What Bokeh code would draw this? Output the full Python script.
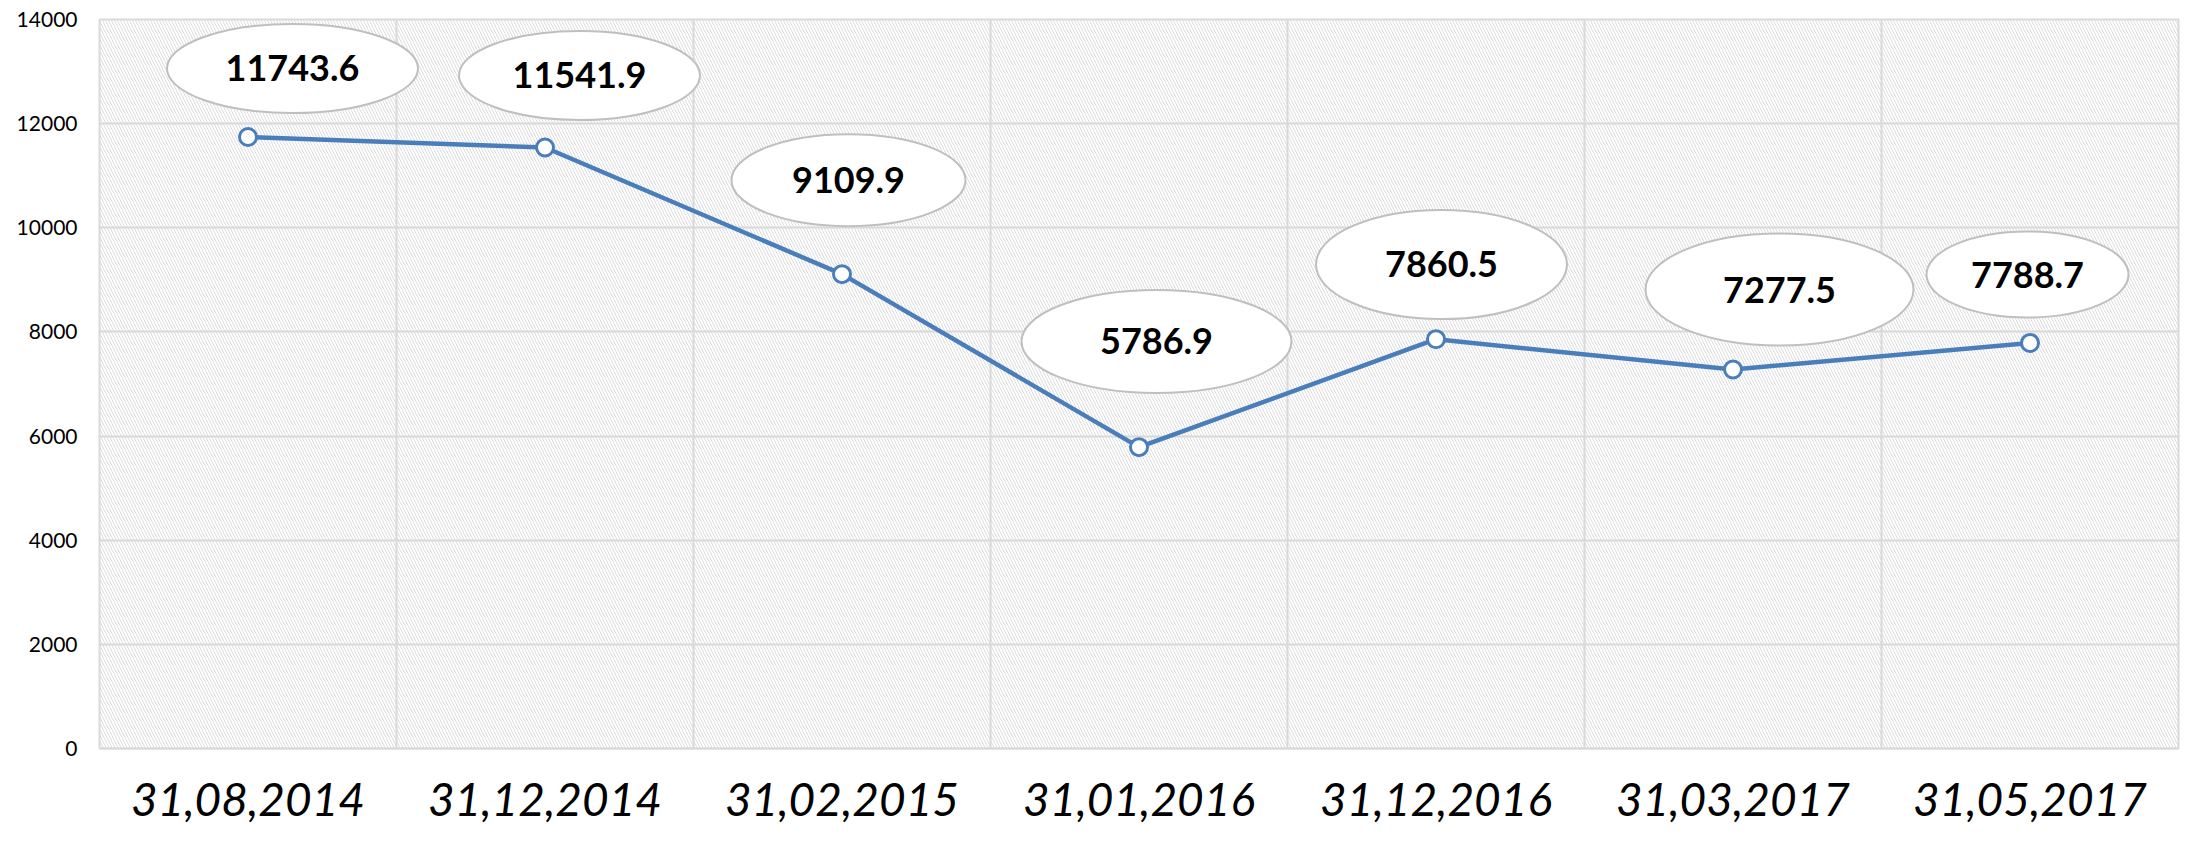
import numpy as np
from bokeh.plotting import figure
from bokeh.models import Range1d, FixedTicker, BoxAnnotation, ColumnDataSource
from bokeh.core.properties import value
from bokeh.embed import file_html
from bokeh.resources import INLINE

# ---- data ----
dates = ["31,08,2014", "31,12,2014", "31,02,2015", "31,01,2016",
         "31,12,2016", "31,03,2017", "31,05,2017"]
values = [11743.6, 11541.9, 9109.9, 5786.9, 7860.5, 7277.5, 7788.7]
y_ticks = [0, 2000, 4000, 6000, 8000, 10000, 12000, 14000]

# ---- layout (callout offsets / sizes in screen px) ----
label_dx = [44.5, 34.5, 6.5, 17.5, 5.5, 46.5, -2.5]
label_dy = [68.5, 72, 94, 105.7, 74.7, 80, 68.4]
label_w = [251, 241, 234, 270, 251, 268, 202]
label_h = [89, 89, 92, 103, 109, 112, 86]

W, H = 2185, 835
BL, BR, BT, BB = 99, 7, 19, 87
frame_w = W - BL - BR
frame_h = H - BT - BB
n = len(dates)
ymax = y_ticks[-1]
px_x = frame_w / n
px_y = frame_h / ymax

xs = np.arange(n) + 0.5
cx = xs + np.array(label_dx) / px_x
cy = np.array(values) + np.array(label_dy) / px_y

src = ColumnDataSource(dict(x=xs, y=values,
                            cx=cx, cy=cy, w=label_w, h=label_h,
                            txt=[f"{v:.1f}" for v in values]))

p = figure(width=W, height=H, output_backend="svg", toolbar_location=None,
           x_range=Range1d(0, n), y_range=Range1d(0, ymax),
           min_border_left=BL, min_border_right=BR,
           min_border_top=BT, min_border_bottom=BB)

p.background_fill_color = "white"
p.border_fill_color = "white"
p.outline_line_color = "#d9d9d9"
p.outline_line_width = 2

hatch = BoxAnnotation(fill_color=None, line_color=None, hatch_pattern="\\",
                      hatch_color="#dcdcdc", hatch_scale=6, hatch_weight=1,
                      level="image")
p.add_layout(hatch)

# grids
p.xgrid.ticker = FixedTicker(ticks=list(range(n + 1)))
p.ygrid.ticker = FixedTicker(ticks=y_ticks)
for g in (p.xgrid, p.ygrid):
    g.grid_line_color = "#d9d9d9"
    g.grid_line_width = 2

# axes
p.xaxis.ticker = FixedTicker(ticks=list(xs))
p.xaxis.major_label_overrides = {float(x): d for x, d in zip(xs, dates)}
p.xaxis.major_label_text_font = "Lato"
p.xaxis.major_label_text_font_style = "italic"
p.xaxis.major_label_text_font_size = "46px"
p.xaxis.major_label_text_color = "#000000"
p.xaxis.major_label_standoff = 34
p.xaxis.axis_line_color = "#d9d9d9"
p.xaxis.axis_line_width = 2
p.xaxis.major_tick_line_color = None
p.xaxis.major_tick_out = 0
p.xaxis.minor_tick_line_color = None

p.yaxis.ticker = FixedTicker(ticks=y_ticks)
p.yaxis.major_label_text_font = "Lato"
p.yaxis.major_label_text_font_size = "21px"
p.yaxis.major_label_text_color = "#000000"
p.yaxis.major_label_standoff = 22
p.yaxis.axis_line_color = None
p.yaxis.major_tick_line_color = None
p.yaxis.major_tick_out = 0
p.yaxis.minor_tick_line_color = None

# line + markers
p.line("x", "y", source=src, line_color="#4a7ebb", line_width=4.5)
p.scatter("x", "y", source=src, size=17, fill_color="white",
          line_color="#4a7ebb", line_width=3)

# callouts
p.ellipse("cx", "cy", width="w", height="h", source=src,
          width_units="screen", height_units="screen",
          fill_color="white", line_color="#bfbfbf", line_width=2)
p.text("cx", "cy", text="txt", source=src, text_font=value("Lato"),
       text_font_style="bold", text_font_size="36px", text_color="#000000",
       text_align="center", text_baseline="middle")

open("out.html", "w").write(file_html(p, INLINE))
